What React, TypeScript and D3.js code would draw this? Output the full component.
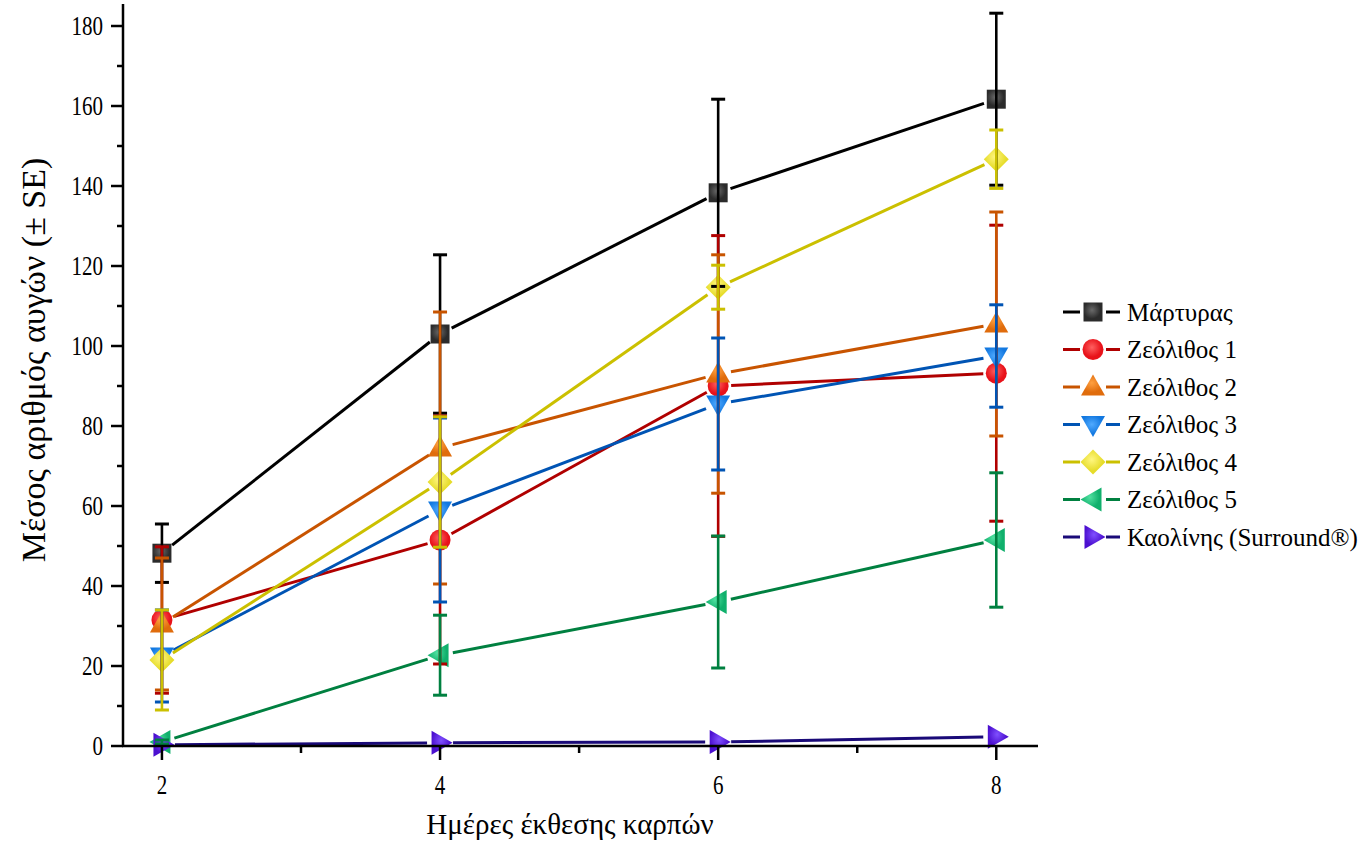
import React from 'react';
import * as d3 from 'd3';

const days = [2, 4, 6, 8];
const xTicks = [2, 4, 6, 8];
const yTicks = [0, 20, 40, 60, 80, 100, 120, 140, 160, 180];

const seriesNames = ['Μάρτυρας', 'Ζεόλιθος 1', 'Ζεόλιθος 2', 'Ζεόλιθος 3', 'Ζεόλιθος 4', 'Ζεόλιθος 5', 'Καολίνης (Surround®)'];

const martyras = [48.2, 103, 138.3, 161.7];
const martyrasSE = [7.3, 19.8, 23.4, 21.5];
const zeolite1 = [31.5, 51.5, 90, 93.2];
const zeolite1SE = [18.3, 31, 37.6, 37];
const zeolite2 = [30.5, 74.5, 93, 105.5];
const zeolite2SE = [16.5, 34, 29.8, 28];
const zeolite3 = [22.5, 59, 85.5, 97.5];
const zeolite3SE = [11.5, 23, 16.5, 12.8];
const zeolite4 = [21.5, 66, 114.7, 146.7];
const zeolite4SE = [12.5, 16.3, 5.5, 7.3];
const zeolite5 = [1, 22.7, 36, 51.5];
const zeolite5SE = [0.5, 10, 16.5, 16.8];
const kaolin = [0.3, 0.8, 1.0, 2.3];
const kaolinSE = [0, 0, 0, 0];

const xLabel = 'Ημέρες έκθεσης καρπών';
const yLabel = 'Μέσος αριθμός αυγών (± SE)';

type Shape = 'square' | 'circle' | 'up' | 'down' | 'diamond' | 'left' | 'right';

const series = [
  { name: seriesNames[0], values: martyras, se: martyrasSE, line: '#000000', fill: '#2b2b2b', light: '#6a6a6a', shape: 'square' as Shape },
  { name: seriesNames[1], values: zeolite1, se: zeolite1SE, line: '#b00000', fill: '#e8121a', light: '#ff6060', shape: 'circle' as Shape },
  { name: seriesNames[2], values: zeolite2, se: zeolite2SE, line: '#c85400', fill: '#e06c0c', light: '#ffa040', shape: 'up' as Shape },
  { name: seriesNames[3], values: zeolite3, se: zeolite3SE, line: '#0054b4', fill: '#1278e0', light: '#50aaff', shape: 'down' as Shape },
  { name: seriesNames[4], values: zeolite4, se: zeolite4SE, line: '#cbc000', fill: '#e6dc2a', light: '#fff680', shape: 'diamond' as Shape },
  { name: seriesNames[5], values: zeolite5, se: zeolite5SE, line: '#008040', fill: '#10b06c', light: '#50e0a0', shape: 'left' as Shape },
  { name: seriesNames[6], values: kaolin, se: kaolinSE, line: '#1a0a78', fill: '#4c10d0', light: '#8050ff', shape: 'right' as Shape },
];

const W = 1366;
const H = 858;
const x = d3.scaleLinear().domain([1.72, 8.3]).range([123, 1038]);
const y = d3.scaleLinear().domain([0, 185.5]).range([746, 4]);

function markerPath(shape: Shape, cx: number, cy: number): string {
  const p = d3.path();
  if (shape === 'square') {
    p.rect(cx - 9.5, cy - 9.5, 19, 19);
  } else if (shape === 'circle') {
    p.arc(cx, cy, 10.5, 0, Math.PI * 2);
  } else if (shape === 'up') {
    p.moveTo(cx, cy - 12.5); p.lineTo(cx + 12, cy + 8.5); p.lineTo(cx - 12, cy + 8.5); p.closePath();
  } else if (shape === 'down') {
    p.moveTo(cx, cy + 12.5); p.lineTo(cx + 12, cy - 8.5); p.lineTo(cx - 12, cy - 8.5); p.closePath();
  } else if (shape === 'diamond') {
    p.moveTo(cx, cy - 12.5); p.lineTo(cx + 12.5, cy); p.lineTo(cx, cy + 12.5); p.lineTo(cx - 12.5, cy); p.closePath();
  } else if (shape === 'left') {
    p.moveTo(cx - 12.5, cy); p.lineTo(cx + 8.5, cy - 12); p.lineTo(cx + 8.5, cy + 12); p.closePath();
  } else {
    p.moveTo(cx + 12.5, cy); p.lineTo(cx - 8.5, cy - 12); p.lineTo(cx - 8.5, cy + 12); p.closePath();
  }
  return p.toString();
}

function gappedSegments(pts: [number, number][], gap: number): string[] {
  const out: string[] = [];
  for (let i = 0; i < pts.length - 1; i++) {
    const [x1, y1] = pts[i];
    const [x2, y2] = pts[i + 1];
    const dx = x2 - x1, dy = y2 - y1;
    const len = Math.hypot(dx, dy);
    if (len <= gap * 2) continue;
    const ux = dx / len, uy = dy / len;
    const p = d3.path();
    p.moveTo(x1 + ux * gap, y1 + uy * gap);
    p.lineTo(x2 - ux * gap, y2 - uy * gap);
    out.push(p.toString());
  }
  return out;
}

const font = '"Liberation Serif", "DejaVu Serif", serif';

export default function App() {
  const legendX0 = 1063;
  const legendMarkX = 1093;
  const legendY0 = 312;
  const legendDy = 37.5;
  const x0 = x.range()[0];
  const y0 = y.range()[0];

  return (
    <svg width={W} height={H} viewBox={`0 0 ${W} ${H}`}
      style={{ position: 'absolute', left: 0, top: 0, display: 'block', background: '#ffffff' }}>
      <defs>
        {series.map((s, i) => (
          <radialGradient key={i} id={`g${i}`} cx="45%" cy="40%" r="65%">
            <stop offset="0%" stopColor={s.light} />
            <stop offset="70%" stopColor={s.fill} />
            <stop offset="100%" stopColor={s.fill} />
          </radialGradient>
        ))}
      </defs>
      <rect x={0} y={0} width={W} height={H} fill="#ffffff" />

      {/* series lines */}
      {series.map((s, i) => {
        const pts = s.values.map((v, j) => [x(days[j]), y(v)] as [number, number]);
        return (
          <g key={`l${i}`}>
            {gappedSegments(pts, 13).map((d, k) => (
              <path key={k} d={d} stroke={s.line} strokeWidth={3} fill="none" />
            ))}
          </g>
        );
      })}

      {/* symbols */}
      {series.map((s, i) => (
        <g key={`m${i}`}>
          {s.values.map((v, j) => (
            <path key={j} d={markerPath(s.shape, x(days[j]), y(v))} fill={`url(#g${i})`} />
          ))}
        </g>
      ))}

      {/* error bars */}
      {series.map((s, i) => (
        <g key={`e${i}`} stroke={s.line} strokeWidth={2.6} fill="none">
          {s.values.map((v, j) => {
            if (!s.se[j]) return null;
            const cx = x(days[j]);
            const yt = y(v + s.se[j]);
            const yb = y(v - s.se[j]);
            return (
              <g key={j}>
                <line x1={cx} x2={cx} y1={yt} y2={yb} />
                <line x1={cx - 7} x2={cx + 7} y1={yt} y2={yt} strokeWidth={3} />
                <line x1={cx - 7} x2={cx + 7} y1={yb} y2={yb} strokeWidth={3} />
              </g>
            );
          })}
        </g>
      ))}

      {/* axes */}
      <g stroke="#000" strokeWidth={2.5} fill="none">
        <line x1={x0} x2={x0} y1={y.range()[1]} y2={y0 + 1} />
        <line x1={x0 - 1} x2={x.range()[1]} y1={y0} y2={y0} />
        {yTicks.map((t) => (
          <line key={`yt${t}`} x1={x0 - 12} x2={x0} y1={y(t)} y2={y(t)} />
        ))}
        {yTicks.slice(0, -1).map((t) => (
          <line key={`ym${t}`} x1={x0 - 6} x2={x0} y1={y(t + 10)} y2={y(t + 10)} />
        ))}
        {xTicks.map((t) => (
          <line key={`xt${t}`} x1={x(t)} x2={x(t)} y1={y0} y2={y0 + 14} />
        ))}
        {xTicks.slice(0, -1).map((t) => (
          <line key={`xm${t}`} x1={x(t + 1)} x2={x(t + 1)} y1={y0} y2={y0 + 7} />
        ))}
      </g>
      <g fontFamily={font} fontSize={21} fill="#000">
        {yTicks.map((t) => (
          <text key={`yl${t}`} transform={`translate(103, ${y(t)}) scale(1, 1.25)`} dy="0.35em" textAnchor="end">{t}</text>
        ))}
        {xTicks.map((t) => (
          <text key={`xl${t}`} transform={`translate(${x(t)}, 794) scale(1, 1.25)`} textAnchor="middle">{t}</text>
        ))}
      </g>
      <text x={570} y={834} fontFamily={font} fontSize={29} textAnchor="middle" fill="#000">{xLabel}</text>
      <text transform={`translate(45, 360) rotate(-90)`} fontFamily={font} fontSize={34} textAnchor="middle" fill="#000">{yLabel}</text>

      {/* legend */}
      {series.map((s, i) => {
        const ly = legendY0 + i * legendDy;
        return (
          <g key={`lg${i}`}>
            <line x1={legendX0} x2={legendMarkX - 13} y1={ly} y2={ly} stroke={s.line} strokeWidth={3} />
            <line x1={legendMarkX + 13} x2={legendX0 + 57} y1={ly} y2={ly} stroke={s.line} strokeWidth={3} />
            <path d={markerPath(s.shape, legendMarkX, ly)} fill={`url(#g${i})`} />
            <text x={1127} y={ly} dy="0.35em" fontFamily={font} fontSize={25} fill="#000">{s.name}</text>
          </g>
        );
      })}
    </svg>
  );
}
